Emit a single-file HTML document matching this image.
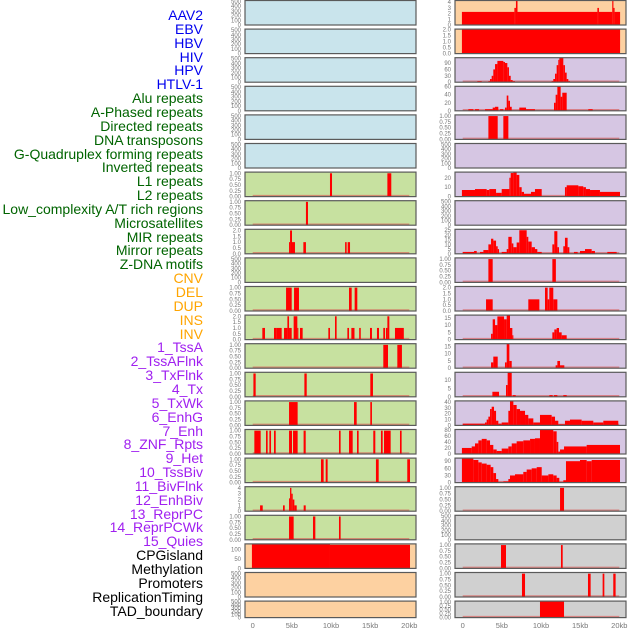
<!DOCTYPE html>
<html><head><meta charset="utf-8">
<style>
body{margin:0;background:#fff;width:630px;height:630px;overflow:hidden;font-family:"Liberation Sans",sans-serif}
#labels div{position:absolute;right:427px;font-size:14px;line-height:14px;white-space:nowrap}
</style></head>
<body>
<div id="labels"></div>
<svg id="chart" width="630" height="630" style="position:absolute;left:0;top:0"></svg>
<script>
const trackNames=["AAV2","EBV","HBV","HIV","HPV","HTLV-1","Alu repeats","A-Phased repeats","Directed repeats","DNA transposons","G-Quadruplex forming repeats","Inverted repeats","L1 repeats","L2 repeats","Low_complexity A/T rich regions","Microsatellites","MIR repeats","Mirror repeats","Z-DNA motifs","CNV","DEL","DUP","INS","INV","1_TssA","2_TssAFlnk","3_TxFlnk","4_Tx","5_TxWk","6_EnhG","7_Enh","8_ZNF_Rpts","9_Het","10_TssBiv","11_BivFlnk","12_EnhBiv","13_ReprPC","14_ReprPCWk","15_Quies","CPGisland","Methylation","Promoters","ReplicationTiming","TAD_boundary"];
const trackGroups=[0,0,0,0,0,0,1,1,1,1,1,1,1,1,1,1,1,1,1,2,2,2,2,2,3,3,3,3,3,3,3,3,3,3,3,3,3,3,3,4,4,4,4,4];
const groupColors=["#0000ee","#006400","#ffa500","#a020f0","#000000"];

const xTicksKb=[0,5,10,15,20];
const xTickLabels=["0","5kb","10kb","15kb","20kb"];

const T1=["0.00","0.25","0.50","0.75","1.00"], T2=["0.0","0.5","1.0","1.5","2.0"], TB=["0","100","200","300","400","500"];
const leftBg=["#c9e4ec","#c9e4ec","#c9e4ec","#c9e4ec","#c9e4ec","#c9e4ec","#c7e1a0","#c7e1a0","#c7e1a0","#c7e1a0","#c7e1a0","#c7e1a0","#c7e1a0","#c7e1a0","#c7e1a0","#c7e1a0","#c7e1a0","#c7e1a0","#c7e1a0","#fdd1a1","#fdd1a1","#fdd1a1"];
const rightBg=["#fdd1a1","#fdd1a1","#d6c6e3","#d6c6e3","#d6c6e3","#d6c6e3","#d6c6e3","#d6c6e3","#d6c6e3","#d6c6e3","#d6c6e3","#d6c6e3","#d6c6e3","#d6c6e3","#d6c6e3","#d6c6e3","#d6c6e3","#d0d0d0","#d0d0d0","#d0d0d0","#d0d0d0","#d0d0d0"];
const leftTicks=[TB,TB,TB,TB,TB,TB,T1,T1,T2,TB,T1,T2,T1,T1,T1,T1,T1,["0","1","2","3","4"],T1,["0","50","100"],TB,TB];
const leftMax=[520,520,520,520,520,520,1.05,1.05,2.1,520,1.05,2.1,1.05,1.05,1.05,1.05,1.05,4.2,1.05,131,520,520];
const rightTicks=[["0","1","2","3","4"],T2,["0","30","60","90"],["0","20","40","60"],T1,TB,["0","10","20"],TB,["0","5","10","15","20","25"],T1,T2,["0","5","10","15"],["0","5","10","15"],["0","5","10"],["0","10","20","30","40"],["0","20","40","60","80"],["0","30","60","90"],T1,TB,T1,T1,T1];
const rightMax=[4.3,2.05,115,61,1.05,520,26,520,26,1.05,2.1,16.9,16.9,14.6,42,81,103,1.05,520,1.05,1.05,1.05];

const leftSeries=[[],[],[],[],[],[],
[[9.87,10.13,1],[17.2,17.7,1]],
[[6.8,7.06,1]],
[[4.64,4.77,1],[4.77,5.02,2],[5.02,5.4,1],[6.47,6.8,1],[11.8,12.0,1],[12.13,12.43,1]],
[],
[[4.26,4.98,1],[5.28,5.91,1],[12.3,12.64,1],[13.02,13.36,1]],
[[1.23,1.57,1],[2.72,3.06,1],[3.06,3.7,1],[4.0,4.43,1],[4.43,4.64,2],[4.64,4.98,1],[5.23,5.7,2],[5.7,5.83,1],[6.04,6.38,1],[9.66,9.87,1],[10.51,10.72,2],[12.09,12.3,1],[12.6,13.0,1],[13.6,13.8,1],[14.98,15.23,1],[15.87,16.13,1],[16.68,16.9,1],[17.02,17.2,1],[17.2,17.45,2],[18.17,19.3,1]],
[[16.68,17.28,1],[18.47,19.06,1]],
[[0.09,0.38,1],[6.6,6.9,1],[15.02,15.36,1]],
[[4.64,5.74,1],[12.94,13.28,1],[15.02,15.23,1]],
[[0.21,1.02,1],[1.7,1.91,1],[2.13,2.34,1],[2.72,2.94,1],[4.64,5.02,1],[5.15,5.74,1],[6.5,6.77,1],[11.02,11.23,1],[12.3,12.77,1],[13.32,13.53,1],[15.4,15.66,1],[16.38,16.6,1],[16.77,17.62,1],[18.81,19.02,1]],
[[8.72,9.06,1],[9.32,9.57,1],[15.74,16.09,1],[19.74,20.09,1]],
[[0.94,1.28,1],[3.87,4.09,1],[4.64,4.77,2.2],[4.77,4.94,4],[4.94,5.11,3],[5.11,5.32,2],[5.32,5.62,1],[6.51,6.77,1]],
[[4.64,5.23,1],[7.7,8.0,1],[11.02,11.23,1]],
[[-0.1,9.87,131],[9.87,20.09,126]],
[],[]];

const rightSeries=[
[[-0.1,6.6,2.3],[6.6,6.8,3],[6.8,7.0,4.4],[7.0,17.2,2.3],[17.2,17.4,3],[17.4,19.1,2.3],[19.1,19.25,4.4],[19.25,19.4,3],[19.4,20.1,2.3]],
[[-0.1,20.1,2.1]],
[[1.87,2.43,5],[3.28,3.49,5],[3.49,3.7,15],[3.7,3.91,30],[3.91,4.13,60],[4.13,4.43,85],[4.43,5.19,100],[5.19,5.4,95],[5.4,5.7,90],[5.7,5.91,70],[5.91,6.13,30],[6.13,6.38,10],[6.38,6.68,5],[11.36,11.57,5],[11.57,11.79,15],[11.79,12.0,40],[12.0,12.21,80],[12.21,12.34,105],[12.34,12.85,115],[12.85,13.06,80],[13.06,13.28,45],[13.28,13.49,15],[13.49,13.7,5]],
[[0.72,1.36,4],[1.57,2.09,4],[2.85,3.83,4],[3.83,4.13,8],[4.13,4.55,10],[4.77,5.19,4],[5.4,5.62,8],[5.62,5.83,38],[5.83,6.04,25],[6.04,6.26,10],[7.23,8.09,8],[8.09,9.23,4],[11.66,11.87,20],[11.87,12.09,40],[12.09,12.51,62],[12.51,12.72,35],[12.72,13.28,45],[16.04,16.6,4]],
[[3.28,4.47,1],[5.19,5.83,1]],
[],
[[-0.1,1.57,7],[1.57,3.06,8],[3.06,3.4,7],[3.4,4.26,8],[4.26,4.98,4],[4.98,5.96,8],[5.96,6.13,20],[6.13,6.47,25],[6.47,6.89,26],[6.89,7.23,23],[7.23,7.53,10],[7.53,7.83,5],[7.83,8.72,3],[8.72,9.23,5],[9.23,10.09,8],[13.06,13.28,10],[13.28,14.77,12],[14.77,15.4,11],[15.4,15.74,10],[15.74,16.26,8],[16.26,17.53,7],[17.53,20.09,5]],
[],
[[0,1.45,2],[1.45,1.79,3],[2.21,2.64,2],[2.64,3.28,4],[3.28,3.62,10],[3.62,3.91,16],[3.91,4.26,14],[4.26,4.47,8],[4.47,4.64,5],[4.98,5.62,2],[5.62,5.83,5],[5.83,6.26,18],[6.26,6.47,11],[6.47,6.89,7],[6.89,7.23,12],[7.23,8.17,25],[8.17,8.38,18],[8.38,8.81,13],[8.81,9.23,7],[9.23,9.53,5],[9.53,10.09,2],[11.45,11.7,10],[11.7,12.09,24],[12.09,12.3,7],[12.85,13.06,8],[13.06,13.4,17],[13.4,13.62,7],[14.21,14.68,2],[14.98,15.62,3],[15.62,16.47,5],[16.47,16.89,3],[18.47,19.66,2]],
[[3.28,3.83,1],[11.45,11.9,1]],
[[2.98,3.83,1],[8.38,9.79,1],[10.51,10.85,2],[10.85,11.06,1],[11.06,11.57,2],[11.57,12.09,1]],
[[3.62,3.83,4],[3.83,4.13,14],[4.13,4.43,10],[4.43,5.28,16],[5.28,5.62,14],[5.62,6.04,17],[6.04,6.34,8],[6.34,6.47,3],[11.45,11.7,5],[11.7,12.0,7],[12.0,12.3,8],[12.3,12.64,5],[12.64,13.28,3]],
[[3.62,3.91,4],[3.91,4.47,8],[5.4,5.62,4],[5.62,5.96,17],[5.96,6.26,5],[11.87,12.09,2],[12.09,12.43,5],[12.43,12.98,2]],
[[3.79,4.64,3],[5.53,5.74,7],[5.74,6.26,17],[6.38,6.77,1],[11.07,11.49,1],[11.66,12.09,1],[12.85,13.28,1]],
[[0,2.85,3],[2.85,3.06,5],[3.06,3.28,10],[3.28,3.49,15],[3.49,3.7,28],[3.7,4.0,32],[4.0,4.26,25],[4.26,4.55,8],[4.55,4.98,3],[4.98,5.83,5],[5.83,6.04,25],[6.04,6.47,42],[6.47,6.89,35],[6.89,7.32,28],[7.32,7.96,25],[7.96,8.38,18],[8.38,9.02,12],[9.02,9.87,5],[9.87,11.36,18],[11.36,11.79,15],[11.79,12.21,8],[12.21,13.06,2],[13.06,13.7,8],[13.7,15.19,10],[15.19,16.68,8],[16.68,17.96,5],[17.96,19.87,8]],
[[-0.1,1.15,20],[1.15,1.57,25],[1.57,2.0,35],[2.0,2.43,45],[2.43,3.06,50],[3.06,3.49,45],[3.49,3.91,30],[3.91,4.34,15],[4.34,4.98,10],[4.98,5.83,18],[5.83,6.26,25],[6.26,6.89,35],[6.89,7.74,42],[7.74,8.6,45],[8.6,9.23,50],[9.23,9.87,52],[9.87,11.57,80],[11.57,12.0,75],[12.0,12.21,40],[12.21,12.43,8],[12.43,12.94,15],[12.94,15.83,25],[15.83,20.09,30]],
[[-0.1,1.36,103],[1.36,2.0,95],[2.0,2.43,85],[2.43,3.06,80],[3.06,3.57,75],[3.57,3.91,65],[3.91,4.26,40],[4.26,4.55,15],[4.55,5.19,3],[5.19,5.83,5],[5.83,6.04,15],[6.04,6.68,30],[6.68,7.74,35],[7.74,8.17,45],[8.17,8.81,55],[8.81,9.45,60],[9.45,10.09,65],[10.09,10.94,30],[10.94,11.57,35],[11.57,12.0,30],[12.0,12.34,20],[12.34,12.85,3],[12.85,13.19,10],[13.19,14.98,90],[14.98,15.83,95],[15.83,16.47,90],[16.47,20.09,95]],
[[12.43,12.94,1]],
[],
[[4.89,5.53,1],[12.55,12.77,1]],
[[7.57,7.96,1],[16.0,16.34,1],[17.87,18.09,1],[19.23,19.53,1]],
[[9.87,12.94,1.1]]];

const NS='http://www.w3.org/2000/svg';
const svg=document.getElementById('chart');
function mk(tag,attrs,parent){const e=document.createElementNS(NS,tag);for(const k in attrs)e.setAttribute(k,attrs[k]);(parent||svg).appendChild(e);return e;}

// labels
const lab=document.getElementById('labels');
trackNames.forEach((n,i)=>{
  const d=document.createElement('div');
  d.textContent=n;
  d.style.top=(8+i*13.85)+'px';
  d.style.color=groupColors[trackGroups[i]];
  
  
  lab.appendChild(d);
});

const KBPX=7.83, PITCH=28.6;
function panelTop(r){return r*PITCH+0.5;}
function panelH(r){return r===21?16.5:24.5;}

function drawColumn(px,x0,bgs,ticks,maxes,series,col){
  for(let r=0;r<22;r++){
    const top=panelTop(r),h=panelH(r),w=171;
    const g=mk('g',{});
    
    
    mk('rect',{x:px,y:top,width:w,height:h,fill:bgs[r]},g);
    const xs=kb=>x0+kb*KBPX;
    const ys=v=>top+h-Math.min(v/maxes[r],1)*h;
    if(series[r].length){
      const bl=mk('line',{x1:xs(0),x2:xs(20),y1:top+h-1,y2:top+h-1,stroke:'#d9534f','stroke-width':1.5,opacity:0.6},g);
      
      
    }
    series[r].forEach(s=>{
      const a=Math.max(xs(s[0]),px),b=Math.min(xs(s[1]),px+w);
      const y=ys(s[2]);
      const rc=mk('rect',{x:a,y:y,width:Math.max(b-a,1),height:top+h-y,fill:'#ff0000'},g);
      
      
    });
    mk('rect',{x:px,y:top,width:w,height:h,fill:'none',stroke:'#5a5a5a','stroke-width':1.2},g);
    const tk=ticks[r];
    tk.forEach(t=>{
      const v=parseFloat(t);
      const tx=mk('text',{x:px-4,y:ys(v)+2,'text-anchor':'end','font-size':6,fill:'#777','font-family':'Liberation Sans, sans-serif'},g);
      tx.textContent=t;
      
      
    });
  }
  xTicksKb.forEach((k,i)=>{
    const t=mk('text',{x:x0+k*KBPX,y:628,'text-anchor':'middle','font-size':7.5,fill:'#777','font-family':'Liberation Sans, sans-serif'});
    t.textContent=xTickLabels[i];
    
    
  });
}
drawColumn(245,252.7,leftBg,leftTicks,leftMax,leftSeries,'left');
drawColumn(455,462.7,rightBg,rightTicks,rightMax,rightSeries,'right');
</script>
</body></html>
